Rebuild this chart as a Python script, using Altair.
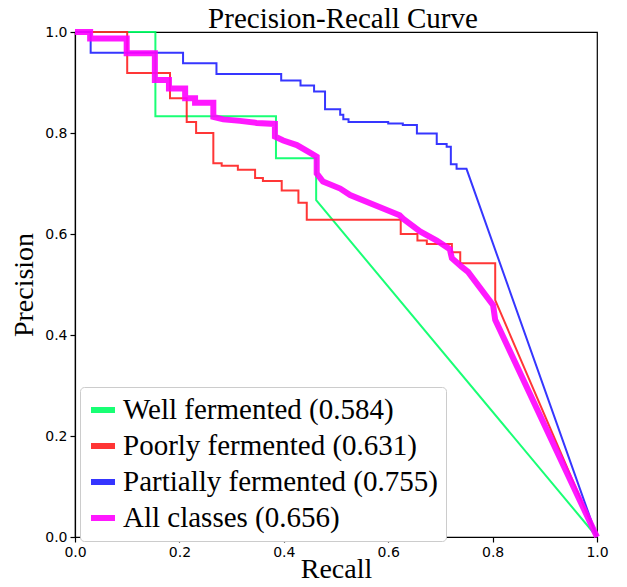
import altair as alt
import pandas as pd

series_names = ["Well fermented (0.584)", "Poorly fermented (0.631)",
                "Partially fermented (0.755)", "All classes (0.656)"]
series_colors = ["#00ff66", "#ff2020", "#2020ff", "#ff00ff"]
series_widths = [2, 2, 2, 6]

well_recall = [0.0, 0.154, 0.154, 0.385, 0.385, 0.462, 0.462, 1.0]
well_precision = [1.0, 1.0, 0.833, 0.833, 0.75, 0.75, 0.667, 0.0]

poor_recall = [0.0, 0.1, 0.1, 0.182, 0.182, 0.214, 0.214, 0.232, 0.232, 0.265, 0.265,
               0.281, 0.281, 0.312, 0.312, 0.345, 0.345, 0.36, 0.36, 0.396, 0.396,
               0.428, 0.428, 0.444, 0.444, 0.624, 0.624, 0.656, 0.656, 0.674, 0.674,
               0.722, 0.722, 0.738, 0.738, 0.805, 0.805, 1.0]
poor_precision = [1.0, 1.0, 0.919, 0.919, 0.869, 0.869, 0.822, 0.822, 0.80, 0.80, 0.74,
                  0.74, 0.735, 0.735, 0.727, 0.727, 0.711, 0.711, 0.705, 0.705, 0.686,
                  0.686, 0.662, 0.662, 0.628, 0.628, 0.60, 0.60, 0.587, 0.587, 0.58,
                  0.58, 0.564, 0.564, 0.542, 0.542, 0.469, 0.0]

part_recall = [0.0, 0.03, 0.03, 0.207, 0.207, 0.271, 0.271, 0.395, 0.395, 0.432, 0.432,
               0.458, 0.458, 0.479, 0.479, 0.508, 0.508, 0.514, 0.514, 0.524, 0.524,
               0.6, 0.6, 0.628, 0.628, 0.655, 0.655, 0.693, 0.693, 0.712, 0.712,
               0.72, 0.72, 0.731, 0.731, 0.75, 1.0]
part_precision = [1.0, 1.0, 0.959, 0.959, 0.938, 0.938, 0.917, 0.917, 0.904, 0.904, 0.894,
                  0.894, 0.882, 0.882, 0.847, 0.847, 0.836, 0.836, 0.827, 0.827, 0.822,
                  0.822, 0.819, 0.819, 0.816, 0.816, 0.799, 0.799, 0.778, 0.778, 0.773,
                  0.773, 0.738, 0.738, 0.729, 0.729, 0.0]

all_recall = [0.0, 0.029, 0.029, 0.099, 0.099, 0.153, 0.153, 0.18, 0.18, 0.211, 0.211,
              0.23, 0.23, 0.265, 0.265, 0.284, 0.316, 0.348, 0.383, 0.383, 0.399, 0.425,
              0.45, 0.463, 0.463, 0.475, 0.508, 0.527, 0.622, 0.629, 0.661, 0.693, 0.718,
              0.722, 0.741, 0.753, 0.801, 0.805, 1.0]
all_precision = [1.0, 1.0, 0.987, 0.987, 0.958, 0.958, 0.905, 0.905, 0.888, 0.888, 0.869,
                 0.869, 0.86, 0.86, 0.832, 0.827, 0.824, 0.82, 0.818, 0.793, 0.785, 0.776,
                 0.761, 0.753, 0.72, 0.704, 0.69, 0.677, 0.637, 0.63, 0.605, 0.587, 0.57,
                 0.552, 0.535, 0.525, 0.459, 0.43, 0.0]

tick_values = [0.0, 0.2, 0.4, 0.6, 0.8, 1.0]

all_series = [(well_recall, well_precision), (poor_recall, poor_precision),
              (part_recall, part_precision), (all_recall, all_precision)]

frames = []
for name, (r, p) in zip(series_names, all_series):
    frames.append(pd.DataFrame({"Recall": r, "Precision": p, "series": name,
                                "idx": list(range(len(r)))}))
df = pd.concat(frames, ignore_index=True)

color_scale = alt.Scale(domain=series_names, range=series_colors)

layers = []
for name, w in zip(series_names, series_widths):
    layers.append(
        alt.Chart(df).transform_filter(alt.datum.series == name)
        .mark_line(strokeWidth=w, opacity=0.9, strokeJoin="miter")
        .encode(
            x=alt.X("Recall:Q", scale=alt.Scale(domain=[0, 1], nice=False),
                    axis=alt.Axis(values=tick_values, format=".1f", title="Recall",
                                  labelFlush=False, titleY=40,
                                  titleBaseline="alphabetic")),
            y=alt.Y("Precision:Q", scale=alt.Scale(domain=[0, 1], nice=False),
                    axis=alt.Axis(values=tick_values, format=".1f", title="Precision",
                                  labelFlush=False, titleX=-43,
                                  titleBaseline="alphabetic")),
            color=alt.Color("series:N", scale=color_scale,
                            legend=alt.Legend(title=None, orient="none",
                                              legendX=5, legendY=355)),
            order="idx:Q",
        )
    )

chart = alt.layer(*layers).properties(
    width=522, height=505,
    autosize=alt.AutoSizeParams(type="none"),
    padding={"left": 67, "top": 24, "right": 22, "bottom": 42},
    title=alt.TitleParams("Precision-Recall Curve", font="Liberation Serif",
                          fontSize=29, fontWeight="normal", color="black",
                          anchor="middle", dx=7, dy=14, offset=0),
).configure_view(stroke="black", strokeWidth=1.2).configure_axis(
    grid=False, domainColor="black", tickColor="black", tickSize=5,
    labelFont="DejaVu Sans", labelFontSize=14, labelColor="black",
    titleFont="Liberation Serif", titleFontSize=28, titleFontWeight="normal",
    titleColor="black", domainWidth=1.2, tickWidth=1.2,
).configure_axisX(labelPadding=3).configure_axisY(labelPadding=3).configure_legend(
    labelFont="Liberation Serif", labelFontSize=29, labelColor="black",
    symbolType="stroke", symbolSize=576, symbolStrokeWidth=6,
    labelOffset=5, rowPadding=6, padding=8,
    fillColor="white", strokeColor="#cccccc", cornerRadius=4,
    labelLimit=0,
)

chart.save("out.html", embed_options={"renderer": "svg", "actions": False})
